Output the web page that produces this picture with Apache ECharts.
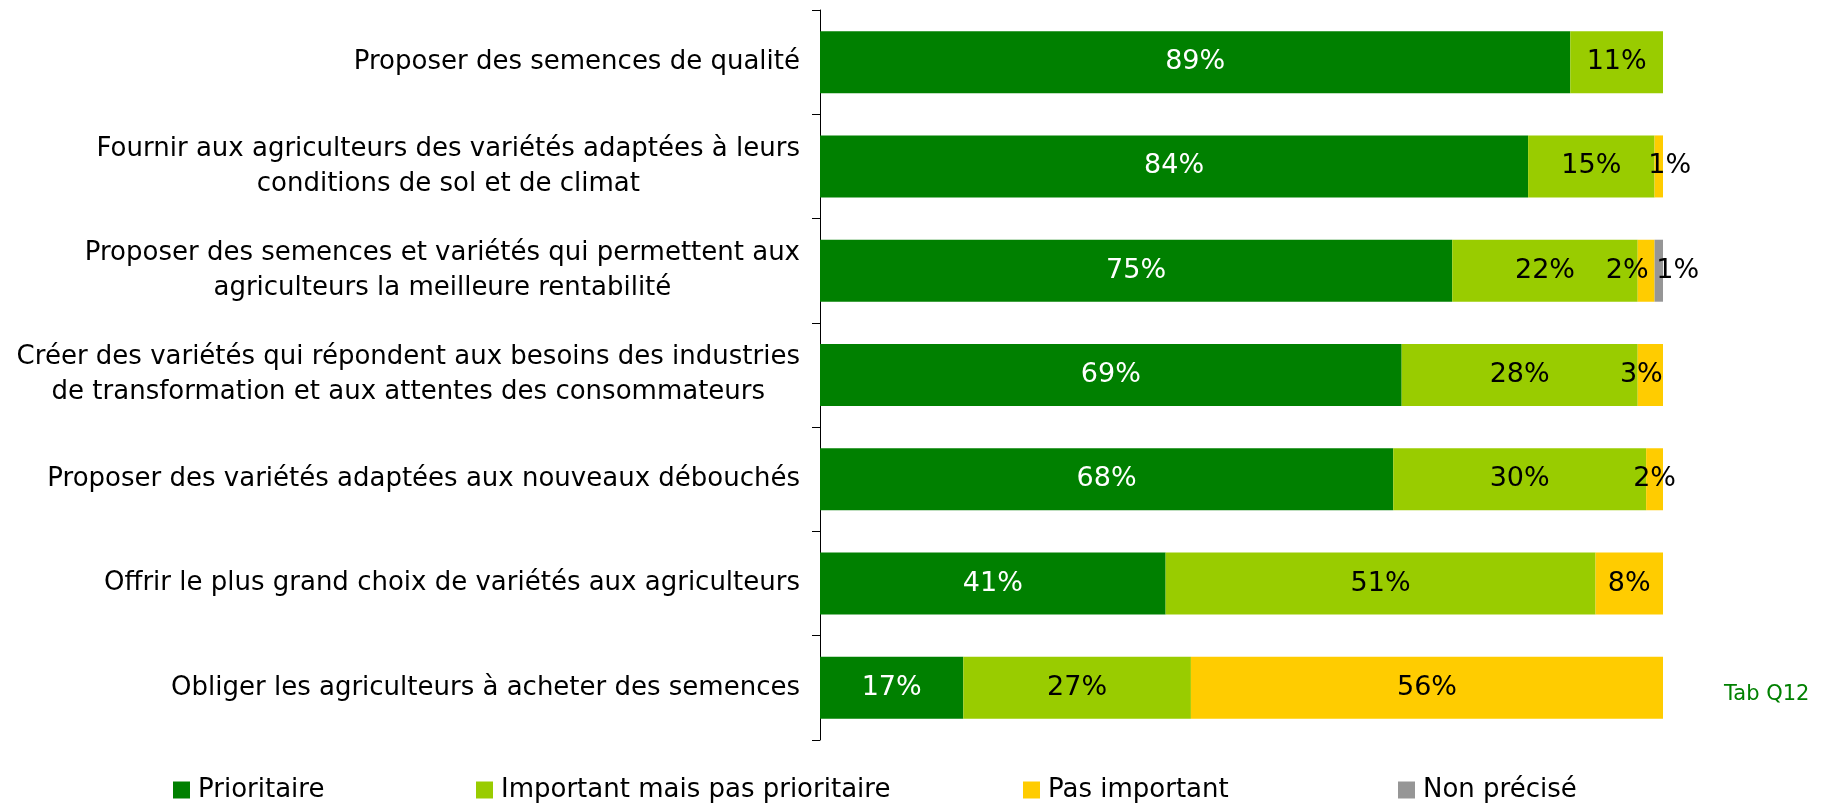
<!DOCTYPE html>
<html>
<head>
<meta charset="utf-8">
<script src="https://cdn.jsdelivr.net/npm/echarts@6/dist/echarts.min.js"></script>
<style>
  html, body { margin: 0; padding: 0; background: #fff; }
  #chart { width: 1830px; height: 803px; }
</style>
</head>
<body>
<div id="chart"></div>
<script>
// Données (en %)
const categories = [
  'Proposer des semences de qualité',
  'Fournir aux agriculteurs des variétés adaptées à leurs\nconditions de sol et de climat',
  'Proposer des semences et variétés qui permettent aux\nagriculteurs la meilleure rentabilité',
  'Créer des variétés qui répondent aux besoins des industries\nde transformation et aux attentes des consommateurs',
  'Proposer des variétés adaptées aux nouveaux débouchés',
  'Offrir le plus grand choix de variétés aux agriculteurs',
  'Obliger les agriculteurs à acheter des semences'
]
const seriesNames = ['Prioritaire', 'Important mais pas prioritaire', 'Pas important', 'Non précisé']
const prioritaire = [89, 84, 75, 69, 68, 41, 17]
const important = [11, 15, 22, 28, 30, 51, 27]
const pasImportant = [0, 1, 2, 3, 2, 8, 56]
const nonPrecise = [0, 0, 1, 0, 0, 0, 0]

const colors = ['#008000', '#99CC00', '#FFCC00', '#969696']
const font = 'DejaVu Sans'

// petits décalages des étiquettes sur les segments étroits
const labelShift = { '2-1': 11, '2-2': -19, '3-2': 19, '2-3': -9 }

function buildSeries (values, idx) {
  return {
    name: seriesNames[idx],
    type: 'bar',
    stack: 'total',
    barWidth: 62,
    itemStyle: { color: colors[idx] },
    label: {
      show: true,
      position: 'inside',
      fontFamily: font,
      fontSize: 27,
      color: idx === 0 ? '#fff' : '#000',
      formatter: p => (p.value ? p.value + '%' : '')
    },
    data: values.map((v, i) => {
      const dx = labelShift[idx + '-' + i]
      return dx ? { value: v, label: { offset: [dx, 0] } } : v
    })
  }
}

const legendLeft = [173, 476, 1023, 1398]

const chart = echarts.init(document.getElementById('chart'))
chart.setOption({
  animation: false,
  textStyle: { fontFamily: font },
  grid: { left: 820, right: 167, top: 10, bottom: 63 },
  xAxis: {
    type: 'value',
    min: 0,
    max: 100,
    show: false
  },
  yAxis: {
    type: 'category',
    inverse: true,
    data: categories,
    axisLine: { show: true, lineStyle: { color: '#000' } },
    axisTick: { show: true, length: 8, lineStyle: { color: '#000' } },
    axisLabel: {
      margin: 20,
      formatter: v => v.split('\n').map(l => '{c|' + l + '}').join('\n'),
      rich: {
        c: { align: 'center', fontFamily: font, fontSize: 26, lineHeight: 35, color: '#000' }
      }
    }
  },
  legend: seriesNames.map((n, i) => ({
    data: [n],
    left: legendLeft[i],
    top: 777,
    padding: 0,
    itemWidth: 17,
    itemHeight: 17,
    itemGap: 0,
    icon: 'rect',
    textStyle: { fontFamily: font, fontSize: 26, color: '#000', padding: [0, 0, 0, 3] }
  })),
  graphic: [{
    type: 'text',
    left: 1724,
    top: 684,
    style: { text: 'Tab Q12', fontFamily: font, fontSize: 21, fill: '#008000' }
  }],
  series: [
    buildSeries(prioritaire, 0),
    buildSeries(important, 1),
    buildSeries(pasImportant, 2),
    buildSeries(nonPrecise, 3)
  ]
})
</script>
</body>
</html>
